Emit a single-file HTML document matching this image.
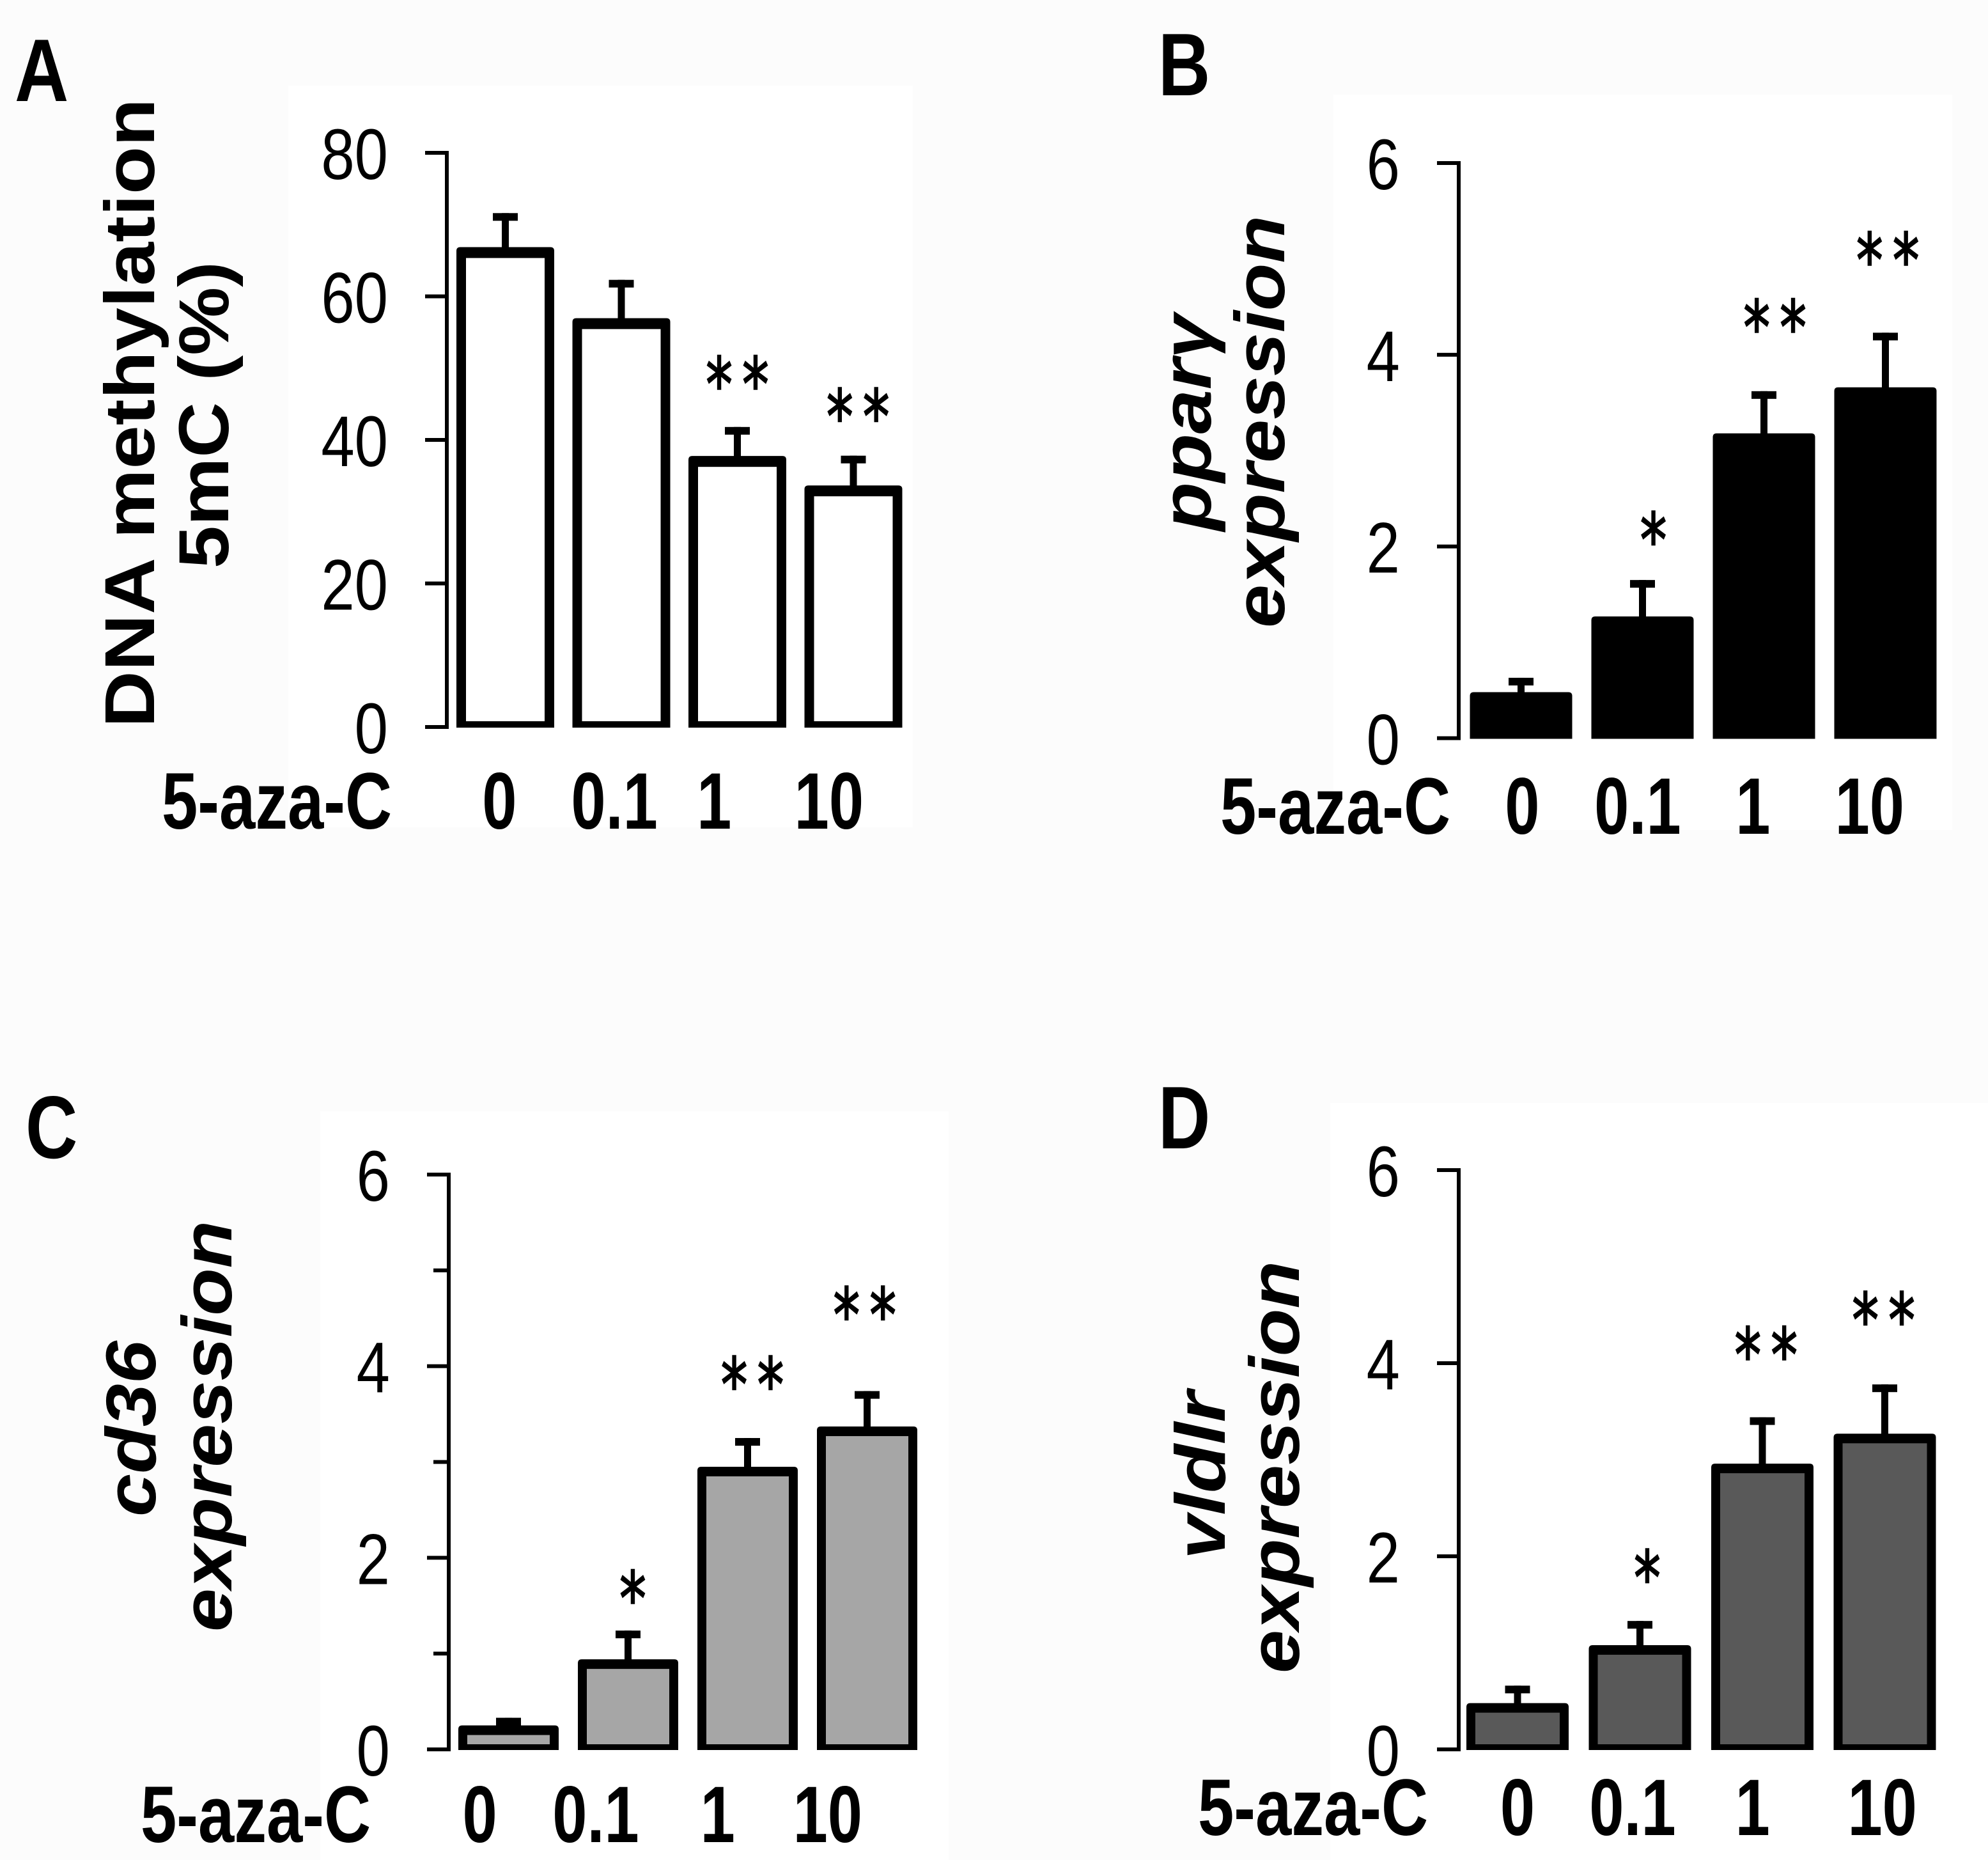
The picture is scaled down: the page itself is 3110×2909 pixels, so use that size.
<!DOCTYPE html>
<html lang="en">
<head>
<meta charset="utf-8">
<title>5-aza-C dose response panels</title>
<style>
  html, body { margin: 0; padding: 0; background: #fcfcfc; }
  svg { display: block; }
  text { fill: #000; font-family: "Liberation Sans", Arial, sans-serif; }
  .title { font-weight: bold; font-size: 110px; }
  .ital { font-style: italic; }
  .letter { font-weight: bold; font-size: 139px; }
</style>
</head>
<body>
<svg id="figure" width="3110" height="2909" viewBox="0 0 3110 2909" xmlns="http://www.w3.org/2000/svg">
  <rect x="0" y="0" width="3110" height="2909" fill="#fcfcfc"/>
  <rect x="451" y="134" width="977" height="1160" fill="#fff"/>
  <rect x="2086" y="148" width="968" height="1150" fill="#fff"/>
  <rect x="501" y="1738" width="983" height="1171" fill="#fff"/>
  <rect x="2081" y="1725" width="1029" height="1184" fill="#fff"/>

  <text class="letter" transform="translate(23,158) scale(0.84,1)">A</text>
  <text class="letter" transform="translate(1812,149) scale(0.81,1)">B</text>
  <text class="letter" transform="translate(40,1811) scale(0.81,1)">C</text>
  <text class="letter" transform="translate(1812,1796) scale(0.81,1)">D</text>

  <text class="title" transform="translate(241,1138) rotate(-90)" textLength="984" lengthAdjust="spacingAndGlyphs">DNA methylation</text>
  <text class="title" transform="translate(357,889) rotate(-90)" textLength="480" lengthAdjust="spacingAndGlyphs">5mC (%)</text>

  <text class="title ital" transform="translate(1894,830) rotate(-90)" textLength="338" lengthAdjust="spacingAndGlyphs">pparγ</text>
  <text class="title ital" transform="translate(2009,982) rotate(-90)" textLength="645" lengthAdjust="spacingAndGlyphs">expression</text>

  <text class="title ital" transform="translate(243,2372) rotate(-90)" textLength="275" lengthAdjust="spacingAndGlyphs">cd36</text>
  <text class="title ital" transform="translate(362,2552) rotate(-90)" textLength="643" lengthAdjust="spacingAndGlyphs">expression</text>

  <text class="title ital" transform="translate(1916,2439) rotate(-90)" textLength="263" lengthAdjust="spacingAndGlyphs">vldlr</text>
  <text class="title ital" transform="translate(2032,2617) rotate(-90)" textLength="645" lengthAdjust="spacingAndGlyphs">expression</text>

  <text font-weight="bold" font-size="125" transform="translate(253,1296) scale(0.81,1)">5-aza-C</text>
  <text font-weight="bold" font-size="125" transform="translate(1909,1304) scale(0.81,1)">5-aza-C</text>
  <text font-weight="bold" font-size="125" transform="translate(220,2881) scale(0.81,1)">5-aza-C</text>
  <text font-weight="bold" font-size="125" transform="translate(1874,2870) scale(0.81,1)">5-aza-C</text>

  <g id="panel-a"></g>
  <g id="panel-b"></g>
  <g id="panel-c"></g>
  <g id="panel-d"></g>
</svg>

<script>
// Shared categories
const categories = ['0', '0.1', '1', '10'];

// Panel A: DNA methylation
const meansA = [66.1, 56.2, 37, 32.9];
const errorsA = [5.5, 6.1, 4.8, 4.9];
const starsA = ['', '', '**', '**'];
const starLevelsA = [0, 0, 49.4, 44.9];
const starAnchorsA = [0, 1, 2, 3.04];
const tickValuesA = [0, 20, 40, 60, 80];
const tickLabelsA = ['0', '20', '40', '60', '80'];
const minorTicksA = [];
const labelAnchorsA = [-0.05, 0.94, 1.80, 2.79];

// Panel B: ppar-gamma expression
const meansB = [0.48, 1.27, 3.18, 3.66];
const errorsB = [0.15, 0.38, 0.44, 0.57];
const starsB = ['', '*', '**', '**'];
const starLevelsB = [0, 2.19, 4.41, 5.11];
const starAnchorsB = [0, 1.09, 2.09, 3.02];
const tickValuesB = [0, 2, 4, 6];
const tickLabelsB = ['0', '2', '4', '6'];
const minorTicksB = [];
const labelAnchorsB = [0.01, 0.96, 1.91, 2.87];

// Panel C: cd36 expression
const meansC = [0.2, 0.89, 2.9, 3.32];
const errorsC = [0.13, 0.35, 0.35, 0.42];
const starsC = ['', '*', '**', '**'];
const starLevelsC = [0, 1.7, 3.93, 4.66];
const starAnchorsC = [0, 1.04, 2.04, 2.98];
const tickValuesC = [0, 2, 4, 6];
const tickLabelsC = ['0', '2', '4', '6'];
const minorTicksC = [1, 3, 5];
const labelAnchorsC = [-0.24, 0.73, 1.75, 2.67];

// Panel D: vldlr expression
const meansD = [0.43, 1.03, 2.91, 3.22];
const errorsD = [0.23, 0.30, 0.53, 0.56];
const starsD = ['', '*', '**', '**'];
const starLevelsD = [0, 1.9, 4.21, 4.57];
const starAnchorsD = [0, 1.06, 2.03, 2.99];
const tickValuesD = [0, 2, 4, 6];
const tickLabelsD = ['0', '2', '4', '6'];
const minorTicksD = [];
const labelAnchorsD = [0, 0.94, 1.92, 2.98];

const SVG_NS = 'http://www.w3.org/2000/svg';

function drawPanel(id, frame, data) {
  const root = document.getElementById(id);
  const yScale = function (v) {
    return frame.yBottom - (v / frame.yMax) * (frame.yBottom - frame.yTop);
  };
  const xScale = function (i) {
    return frame.x0 + i * frame.step;
  };

  function rect(x, y, w, h, fill) {
    const el = document.createElementNS(SVG_NS, 'rect');
    el.setAttribute('x', x);
    el.setAttribute('y', y);
    el.setAttribute('width', w);
    el.setAttribute('height', h);
    el.setAttribute('fill', fill);
    root.appendChild(el);
    return el;
  }

  function label(str, x, y, size, sx, anchor, weight) {
    const el = document.createElementNS(SVG_NS, 'text');
    el.textContent = str;
    el.setAttribute('font-size', size);
    el.setAttribute('text-anchor', anchor);
    el.setAttribute('font-weight', weight);
    el.setAttribute('transform', 'translate(' + x + ',' + y + ') scale(' + sx + ',1)');
    root.appendChild(el);
    return el;
  }

  // Axis line
  const axisLine = rect(frame.axisX - 4, frame.yTop - 3, 6, frame.yBottom - frame.yTop + 6, '#000');
  
  

  // Major ticks and labels
  data.tickValues.forEach(function (v, i) {
    const tick = rect(frame.axisX - 35, yScale(v) - 3, 35, 6, '#000');
    
    
    const text = label(data.tickLabels[i], frame.axisX - 93, yScale(v) + 41, 112, 0.84, 'end', 'normal');
    
    
  });

  // Minor ticks
  data.minorTicks.forEach(function (v) {
    const tick = rect(frame.axisX - 25, yScale(v) - 3, 25, 6, '#000');
    
    
  });

  // Bars, error bars, stars, category labels
  categories.forEach(function (cat, i) {
    const cx = xScale(i);
    const top = yScale(data.means[i]);
    const errTop = yScale(data.means[i] + data.errors[i]);

    const stem = rect(cx - 5.5, errTop, 11, top - errTop + 2, '#000');
    
    

    const cap = rect(cx - 19.5, errTop, 39, 12, '#000');
    
    

    // Black outer silhouette with rounded top corners
    const left = cx - frame.barW / 2;
    const right = cx + frame.barW / 2;
    const outerTop = top - frame.topW / 2;
    const bottom = frame.yBottom + 1;
    const r = Math.min(6, (bottom - outerTop) / 2);
    const outline = document.createElementNS(SVG_NS, 'path');
    outline.setAttribute('d', 'M' + left + ' ' + bottom +
      'V' + (outerTop + r) + 'Q' + left + ' ' + outerTop + ' ' + (left + r) + ' ' + outerTop +
      'H' + (right - r) + 'Q' + right + ' ' + outerTop + ' ' + right + ' ' + (outerTop + r) +
      'V' + bottom + 'Z');
    outline.setAttribute('fill', '#000');
    
    
    root.appendChild(outline);

    // Inner fill for outlined bars
    if (frame.sideW > 0) {
      const innerTop = outerTop + frame.topW;
      const innerH = Math.max(0, bottom - frame.bottomW - innerTop);
      const inner = rect(left + frame.sideW, innerTop, frame.barW - 2 * frame.sideW, innerH, frame.fill);
      
      
    }

    if (data.stars[i]) {
      const starScale = 0.72;
      const starGap = 21.5;
      const star = label(data.stars[i], xScale(data.starAnchors[i]) + starGap * starScale / 2, yScale(data.starLevels[i]) + 59, 115, starScale, 'middle', 'normal');
      star.style.fontFamily = '"DejaVu Sans", sans-serif';
      star.style.letterSpacing = starGap + 'px';
      star.setAttribute('stroke', '#000');
      star.setAttribute('stroke-width', '2.5');
      
      
    }

    const catLabel = label(cat, xScale(data.labelAnchors[i]), frame.labelY, 125, 0.78, 'middle', 'bold');
    
    
  });
}

drawPanel('panel-a',
  { axisX: 700, yTop: 239, yBottom: 1137, yMax: 80, x0: 790.5, step: 181.5, barW: 153, sideW: 15, topW: 17, bottomW: 10, fill: '#ffffff', labelY: 1296 },
  { means: meansA, errors: errorsA, stars: starsA, starLevels: starLevelsA, starAnchors: starAnchorsA,
    tickValues: tickValuesA, tickLabels: tickLabelsA, minorTicks: minorTicksA, labelAnchors: labelAnchorsA });

drawPanel('panel-b',
  { axisX: 2283, yTop: 255, yBottom: 1154.5, yMax: 6, x0: 2379.5, step: 190, barW: 160, sideW: 0, topW: 0, bottomW: 0, fill: '#000000', labelY: 1304 },
  { means: meansB, errors: errorsB, stars: starsB, starLevels: starLevelsB, starAnchors: starAnchorsB,
    tickValues: tickValuesB, tickLabels: tickLabelsB, minorTicks: minorTicksB, labelAnchors: labelAnchorsB });

drawPanel('panel-c',
  { axisX: 703, yTop: 1837, yBottom: 2736, yMax: 6, x0: 795.5, step: 187, barW: 157, sideW: 14, topW: 15, bottomW: 9, fill: '#a6a6a6', labelY: 2881 },
  { means: meansC, errors: errorsC, stars: starsC, starLevels: starLevelsC, starAnchors: starAnchorsC,
    tickValues: tickValuesC, tickLabels: tickLabelsC, minorTicks: minorTicksC, labelAnchors: labelAnchorsC });

drawPanel('panel-d',
  { axisX: 2283, yTop: 1830, yBottom: 2736, yMax: 6, x0: 2374, step: 191.5, barW: 160, sideW: 14, topW: 15, bottomW: 9, fill: '#595959', labelY: 2870 },
  { means: meansD, errors: errorsD, stars: starsD, starLevels: starLevelsD, starAnchors: starAnchorsD,
    tickValues: tickValuesD, tickLabels: tickLabelsD, minorTicks: minorTicksD, labelAnchors: labelAnchorsD });
</script>
</body>
</html>
